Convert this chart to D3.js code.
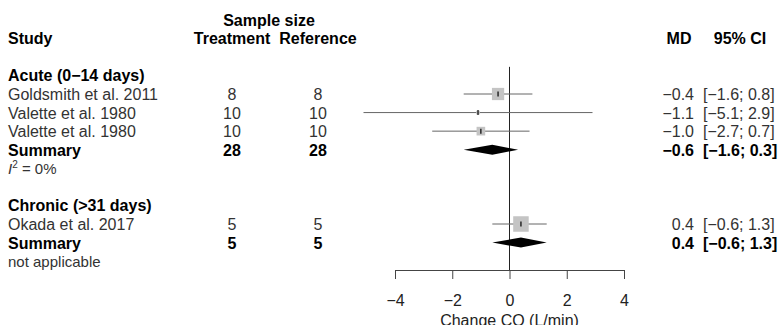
<!DOCTYPE html>
<html>
<head>
<meta charset="utf-8">
<script src="https://cdnjs.cloudflare.com/ajax/libs/d3/7.8.5/d3.min.js"></script>
<style>
  body { margin: 0; background: #fff; }
  svg { display: block; font-family: "Liberation Sans", Arial, sans-serif; }
</style>
</head>
<body>
<svg id="chart"></svg>
<script>
// Data
const groups = ["Acute (0\u221214 days)", "Chronic (>31 days)"];
const heterogeneity = ["I2 = 0%", "not applicable"];
const studies = ["Goldsmith et al. 2011", "Valette et al. 1980", "Valette et al. 1980", "Okada et al. 2017"];
const studyGroup = [0, 0, 0, 1];
const nTreatment = [8, 10, 10, 5];
const nReference = [8, 10, 10, 5];
const md = [-0.4, -1.1, -1.0, 0.4];
const ciLow = [-1.6, -5.1, -2.7, -0.6];
const ciHigh = [0.8, 2.9, 0.7, 1.3];
const weight = [62.3, 5.6, 31.1, 100];
const summaryN = [28, 5];
const summaryMd = [-0.6, 0.4];
const summaryLow = [-1.6, -0.6];
const summaryHigh = [0.3, 1.3];
const xTicks = [-4, -2, 0, 2, 4];

const width = 780, height = 325;
const svg = d3.select('#chart').attr('width', width).attr('height', height);

const x = d3.scaleLinear().domain([-4, 4]).range([395, 624]);
// row index -> text baseline
const rowBase = d3.scaleLinear().domain([4, 11]).range([100, 230]);
const rowMid = i => rowBase(i) - 6;
const sq = d3.scaleSqrt().domain([0, 100]).range([0, 15.5]);
const fmt = d3.format('.1f');

const col = { study: 8, treat: 232, ref: 318, md: 694, ci: 703 };
const axisY = 270;

// Build rows
const rows = [];
let r = 3;
groups.forEach((g, gi) => {
  rows.push({ type: 'group', i: r++, label: g });
  studies.forEach((s, si) => {
    if (studyGroup[si] !== gi) return;
    rows.push({ type: 'study', i: r++, label: s, nt: nTreatment[si], nr: nReference[si],
      md: md[si], lo: ciLow[si], hi: ciHigh[si], w: weight[si] });
  });
  rows.push({ type: 'summary', i: r++, label: 'Summary', nt: summaryN[gi], nr: summaryN[gi],
    md: summaryMd[gi], lo: summaryLow[gi], hi: summaryHigh[gi] });
  rows.push({ type: 'het', i: r++, label: heterogeneity[gi] });
  r++;
});

// Headers
const head = svg.append('g').attr('font-weight', 'bold').attr('font-size', 16).attr('fill', '#000');
head.append('text').attr('x', 269).attr('y', rowBase(0)).attr('text-anchor', 'middle').text('Sample size');
head.append('text').attr('x', col.study).attr('y', rowBase(1)).text('Study');
head.append('text').attr('x', col.treat).attr('y', rowBase(1)).attr('text-anchor', 'middle').text('Treatment');
head.append('text').attr('x', col.ref).attr('y', rowBase(1)).attr('text-anchor', 'middle').text('Reference');
head.append('text').attr('x', 679).attr('y', rowBase(1)).attr('text-anchor', 'middle').text('MD');
head.append('text').attr('x', 740).attr('y', rowBase(1)).attr('text-anchor', 'middle').text('95% CI');

// Zero line
svg.append('line')
  .attr('x1', x(0)).attr('x2', x(0))
  .attr('y1', rowBase(2) + 4).attr('y2', axisY)
  .attr('stroke', '#222').attr('stroke-width', 1);

// Text columns
const txt = svg.append('g').attr('font-size', 16);
rows.forEach(d => {
  const bold = d.type === 'group' || d.type === 'summary';
  const fill = bold ? '#000' : '#333';
  const g = txt.append('g').attr('font-weight', bold ? 'bold' : 'normal').attr('fill', fill);
  const y = rowBase(d.i);
  if (d.type === 'het' && d.label.startsWith('I2')) {
    const t = g.append('text').attr('x', col.study).attr('y', y).attr('font-size', 15);
    t.append('tspan').attr('font-style', 'italic').text('I');
    t.append('tspan').attr('font-size', 10).attr('dy', -6).text('2');
    t.append('tspan').attr('dy', 6).text(d.label.slice(2));
  } else {
    g.append('text').attr('x', col.study).attr('y', y)
      .attr('font-size', d.type === 'het' ? 15 : 16).text(d.label);
  }
  if (d.type === 'study' || d.type === 'summary') {
    g.append('text').attr('x', col.treat).attr('y', y).attr('text-anchor', 'middle').text(d.nt);
    g.append('text').attr('x', col.ref).attr('y', y).attr('text-anchor', 'middle').text(d.nr);
    g.append('text').attr('x', col.md).attr('y', y).attr('text-anchor', 'end').text(fmt(d.md));
    g.append('text').attr('x', col.ci).attr('y', y).text(`[${fmt(d.lo)}; ${fmt(d.hi)}]`);
  }
});

// Study marks
const studyRows = rows.filter(d => d.type === 'study');
const marks = svg.append('g');
marks.selectAll('.ci').data(studyRows).enter().append('line')
  .attr('x1', d => x(d.lo)).attr('x2', d => x(d.hi))
  .attr('y1', d => rowMid(d.i)).attr('y2', d => rowMid(d.i))
  .attr('stroke', '#666').attr('stroke-width', 1);
marks.selectAll('.sq').data(studyRows).enter().append('rect')
  .attr('x', d => x(d.md) - sq(d.w) / 2)
  .attr('y', d => rowMid(d.i) - sq(d.w) / 2)
  .attr('width', d => sq(d.w)).attr('height', d => sq(d.w))
  .attr('fill', '#c4c4c4');
marks.selectAll('.pt').data(studyRows).enter().append('line')
  .attr('x1', d => x(d.md)).attr('x2', d => x(d.md))
  .attr('y1', d => rowMid(d.i) - 2.5).attr('y2', d => rowMid(d.i) + 2.5)
  .attr('stroke', '#000').attr('stroke-width', 1.2);

// Summary diamonds
const sumRows = rows.filter(d => d.type === 'summary');
marks.selectAll('.dia').data(sumRows).enter().append('path')
  .attr('d', d => {
    const y = rowMid(d.i), h = 5;
    return `M${x(d.lo)},${y}L${x(d.md)},${y - h}L${x(d.hi)},${y}L${x(d.md)},${y + h}Z`;
  })
  .attr('fill', '#000');

// Axis
const axis = svg.append('g')
  .attr('transform', `translate(0,${axisY})`)
  .call(d3.axisBottom(x).tickValues(xTicks).tickSize(9).tickSizeOuter(0).tickPadding(16)
    .tickFormat(d3.format('d')));
axis.selectAll('path, line').attr('stroke', '#444');
axis.selectAll('text').attr('font-size', 16).attr('fill', '#222')
  .attr('font-family', '"Liberation Sans", Arial, sans-serif');

svg.append('text')
  .attr('x', x(0)).attr('y', 326)
  .attr('text-anchor', 'middle').attr('font-size', 16).attr('fill', '#222')
  .text('Change CO (L/min)');
</script>
</body>
</html>
